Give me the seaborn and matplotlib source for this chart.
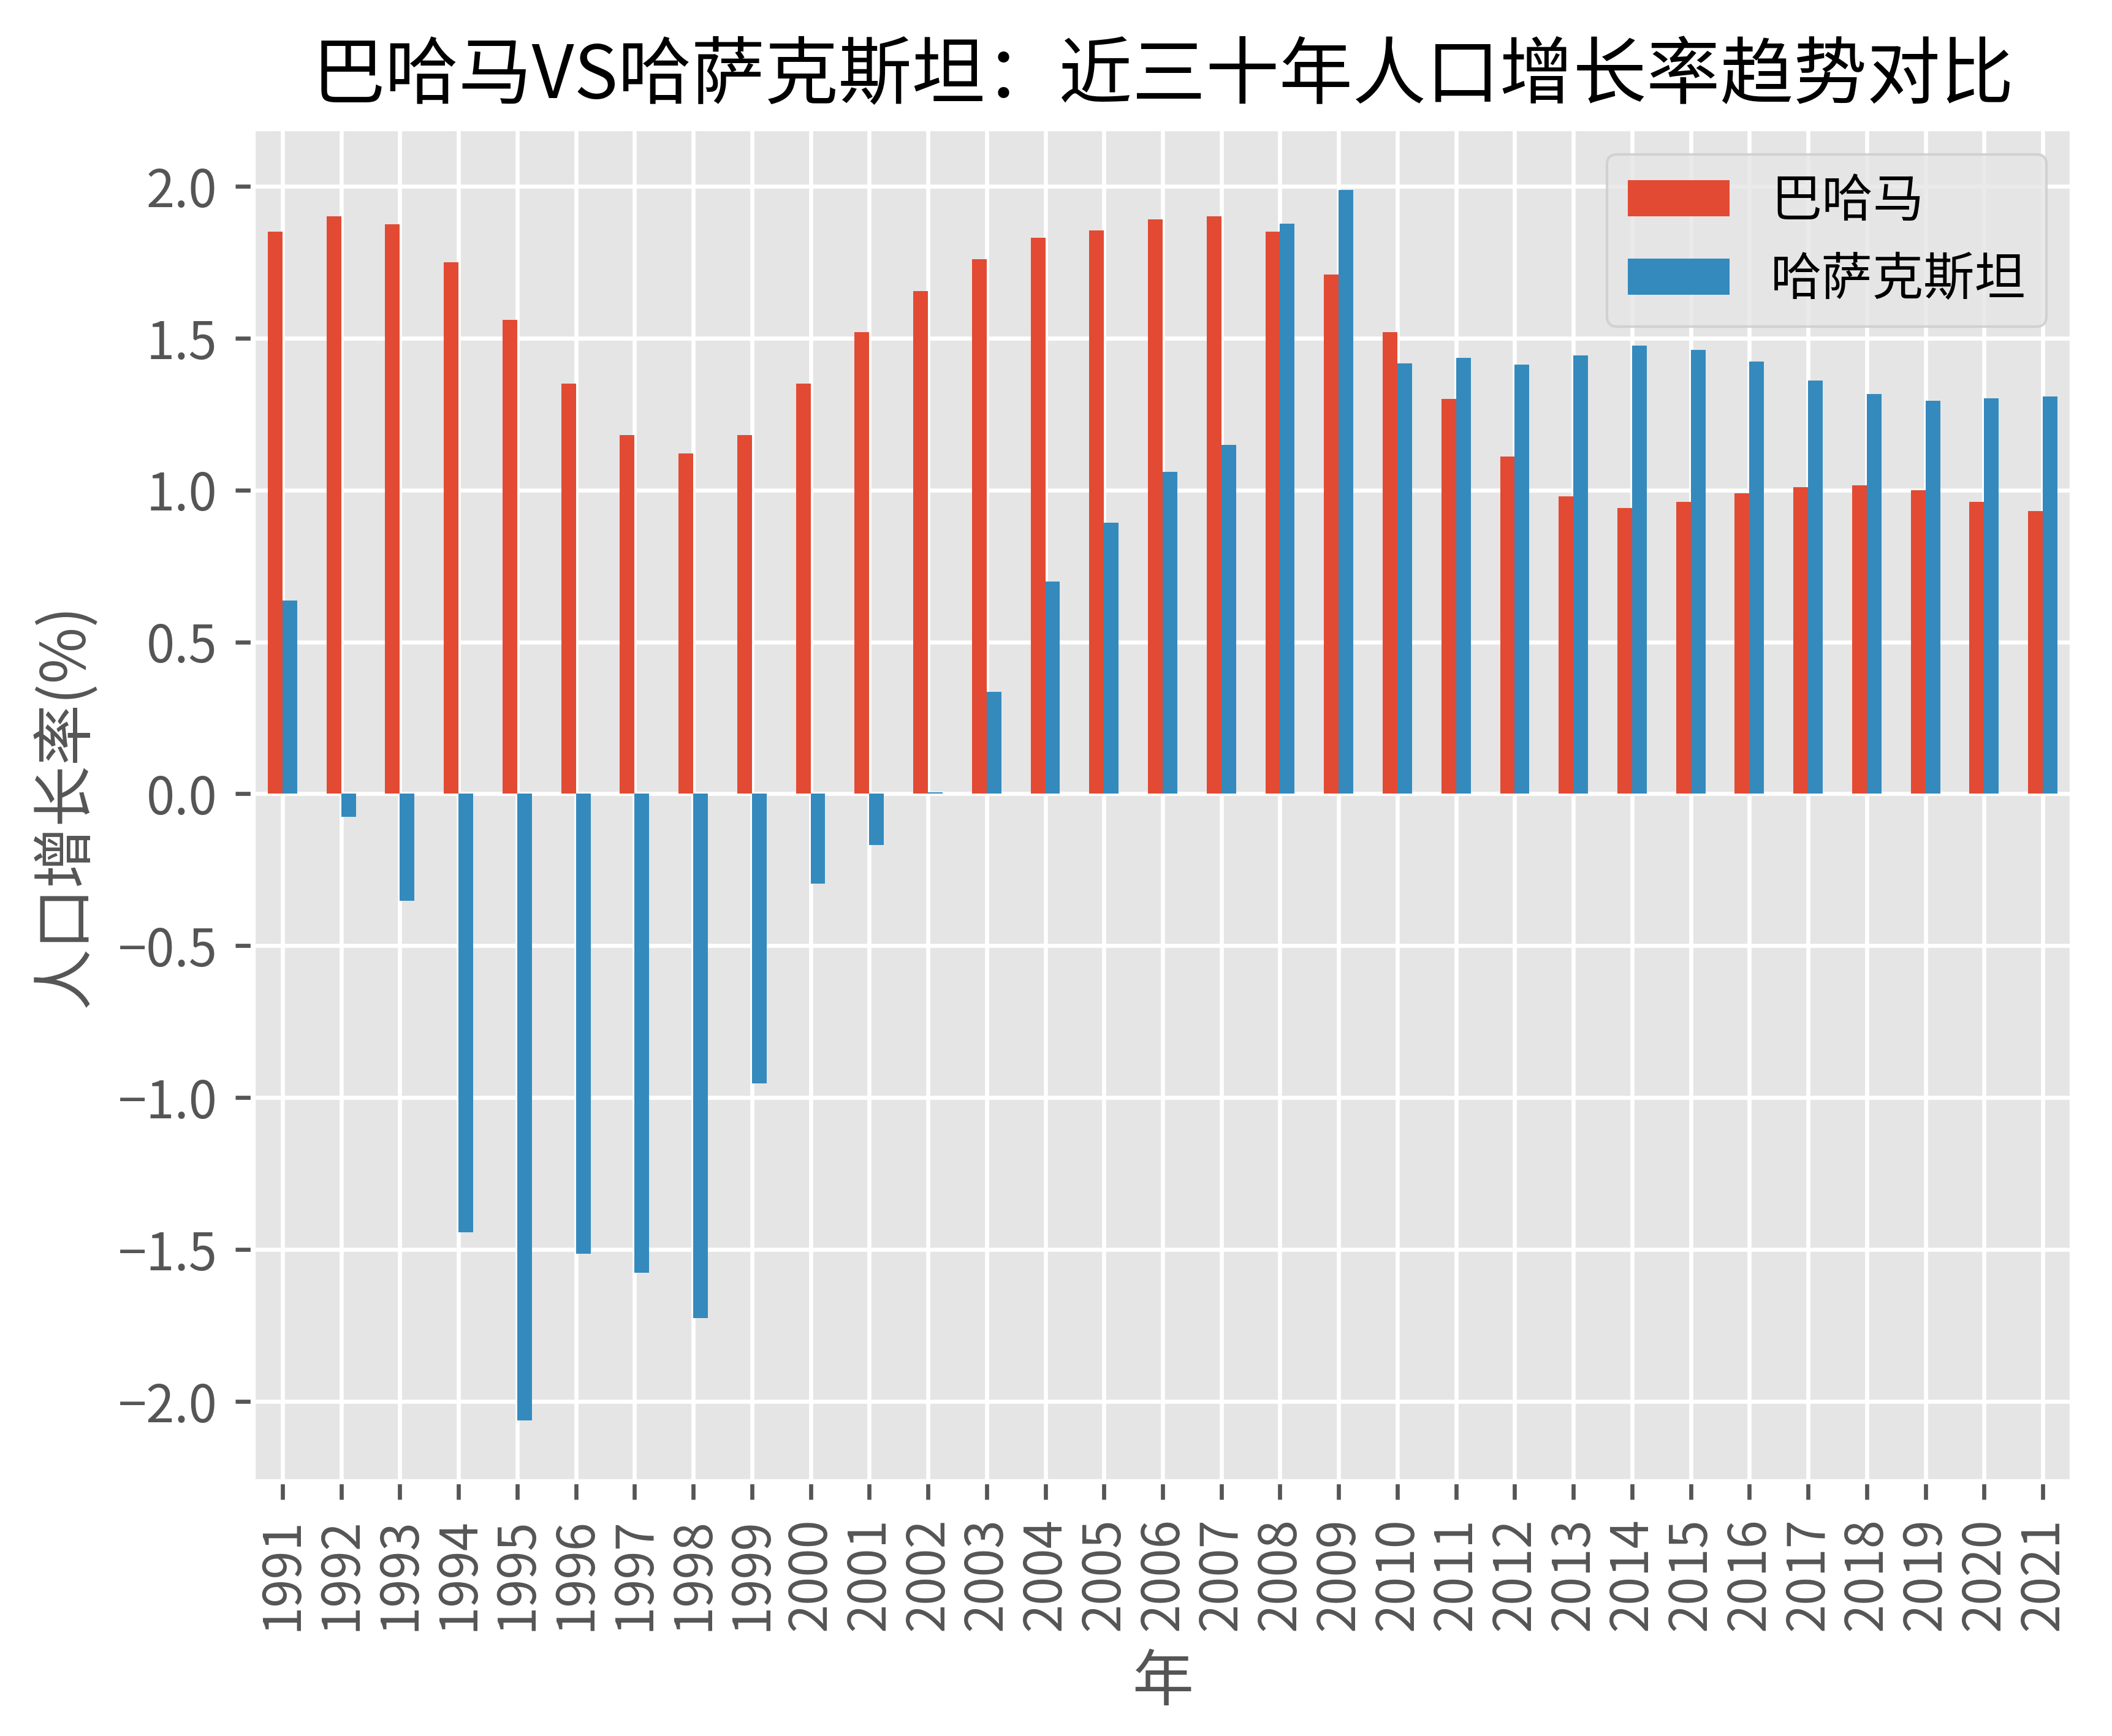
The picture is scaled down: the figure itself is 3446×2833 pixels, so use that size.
import numpy as np
import pandas as pd
import matplotlib
matplotlib.use("Agg")
import matplotlib.pyplot as plt
import seaborn as sns

# population growth rate (%)
years = [str(y) for y in range(1991, 2022)]
bahamas = [1.85, 1.90, 1.875, 1.75, 1.56, 1.35, 1.18, 1.12, 1.18, 1.35,
           1.52, 1.655, 1.76, 1.83, 1.855, 1.89, 1.90, 1.85, 1.71, 1.52,
           1.30, 1.11, 0.98, 0.94, 0.96, 0.99, 1.01, 1.015, 1.00, 0.96, 0.93]
kazakhstan = [0.636, -0.075, -0.353, -1.444, -2.062, -1.514, -1.576, -1.726, -0.954, -0.296,
              -0.168, 0.005, 0.336, 0.698, 0.892, 1.06, 1.148, 1.876, 1.987, 1.417,
              1.435, 1.413, 1.444, 1.475, 1.461, 1.422, 1.36, 1.316, 1.294, 1.302, 1.307]
names = ["巴哈马", "哈萨克斯坦"]
colors = ["#E24A33", "#348ABD"]

df = pd.concat([
    pd.DataFrame({"年": years, "value": bahamas, "国家": names[0]}),
    pd.DataFrame({"年": years, "value": kazakhstan, "国家": names[1]}),
])

plt.style.use("ggplot")
plt.rcParams["font.family"] = ["Noto Sans CJK SC", "DejaVu Sans"]
plt.rcParams["axes.unicode_minus"] = True

fig = plt.figure(figsize=(3446 / 600, 2833 / 600), dpi=600)
ax = fig.add_axes([413 / 3446, 1 - 2418 / 2833, 2968 / 3446, 2208 / 2833])

sns.barplot(data=df, x="年", y="value", hue="国家", palette=colors, saturation=1,
            width=0.5, gap=0, linewidth=0, errorbar=None, ax=ax)

ax.xaxis.grid(True)
ax.yaxis.grid(True)
ax.set_axisbelow(True)
ax.tick_params(axis="x", labelrotation=90)

ax.set_title("巴哈马VS哈萨克斯坦：近三十年人口增长率趋势对比", fontsize=14.4, color="black")
ax.set_xlabel("年", fontsize=12, color="#555555")
ax.set_ylabel("人口增长率(%)", fontsize=12, color="#555555")

leg = ax.get_legend()
handles = leg.legend_handles
labels = [t.get_text() for t in leg.get_texts()]
ax.legend(handles, labels, loc="upper right", fontsize=10)

fig.savefig("out.png", dpi=600)
